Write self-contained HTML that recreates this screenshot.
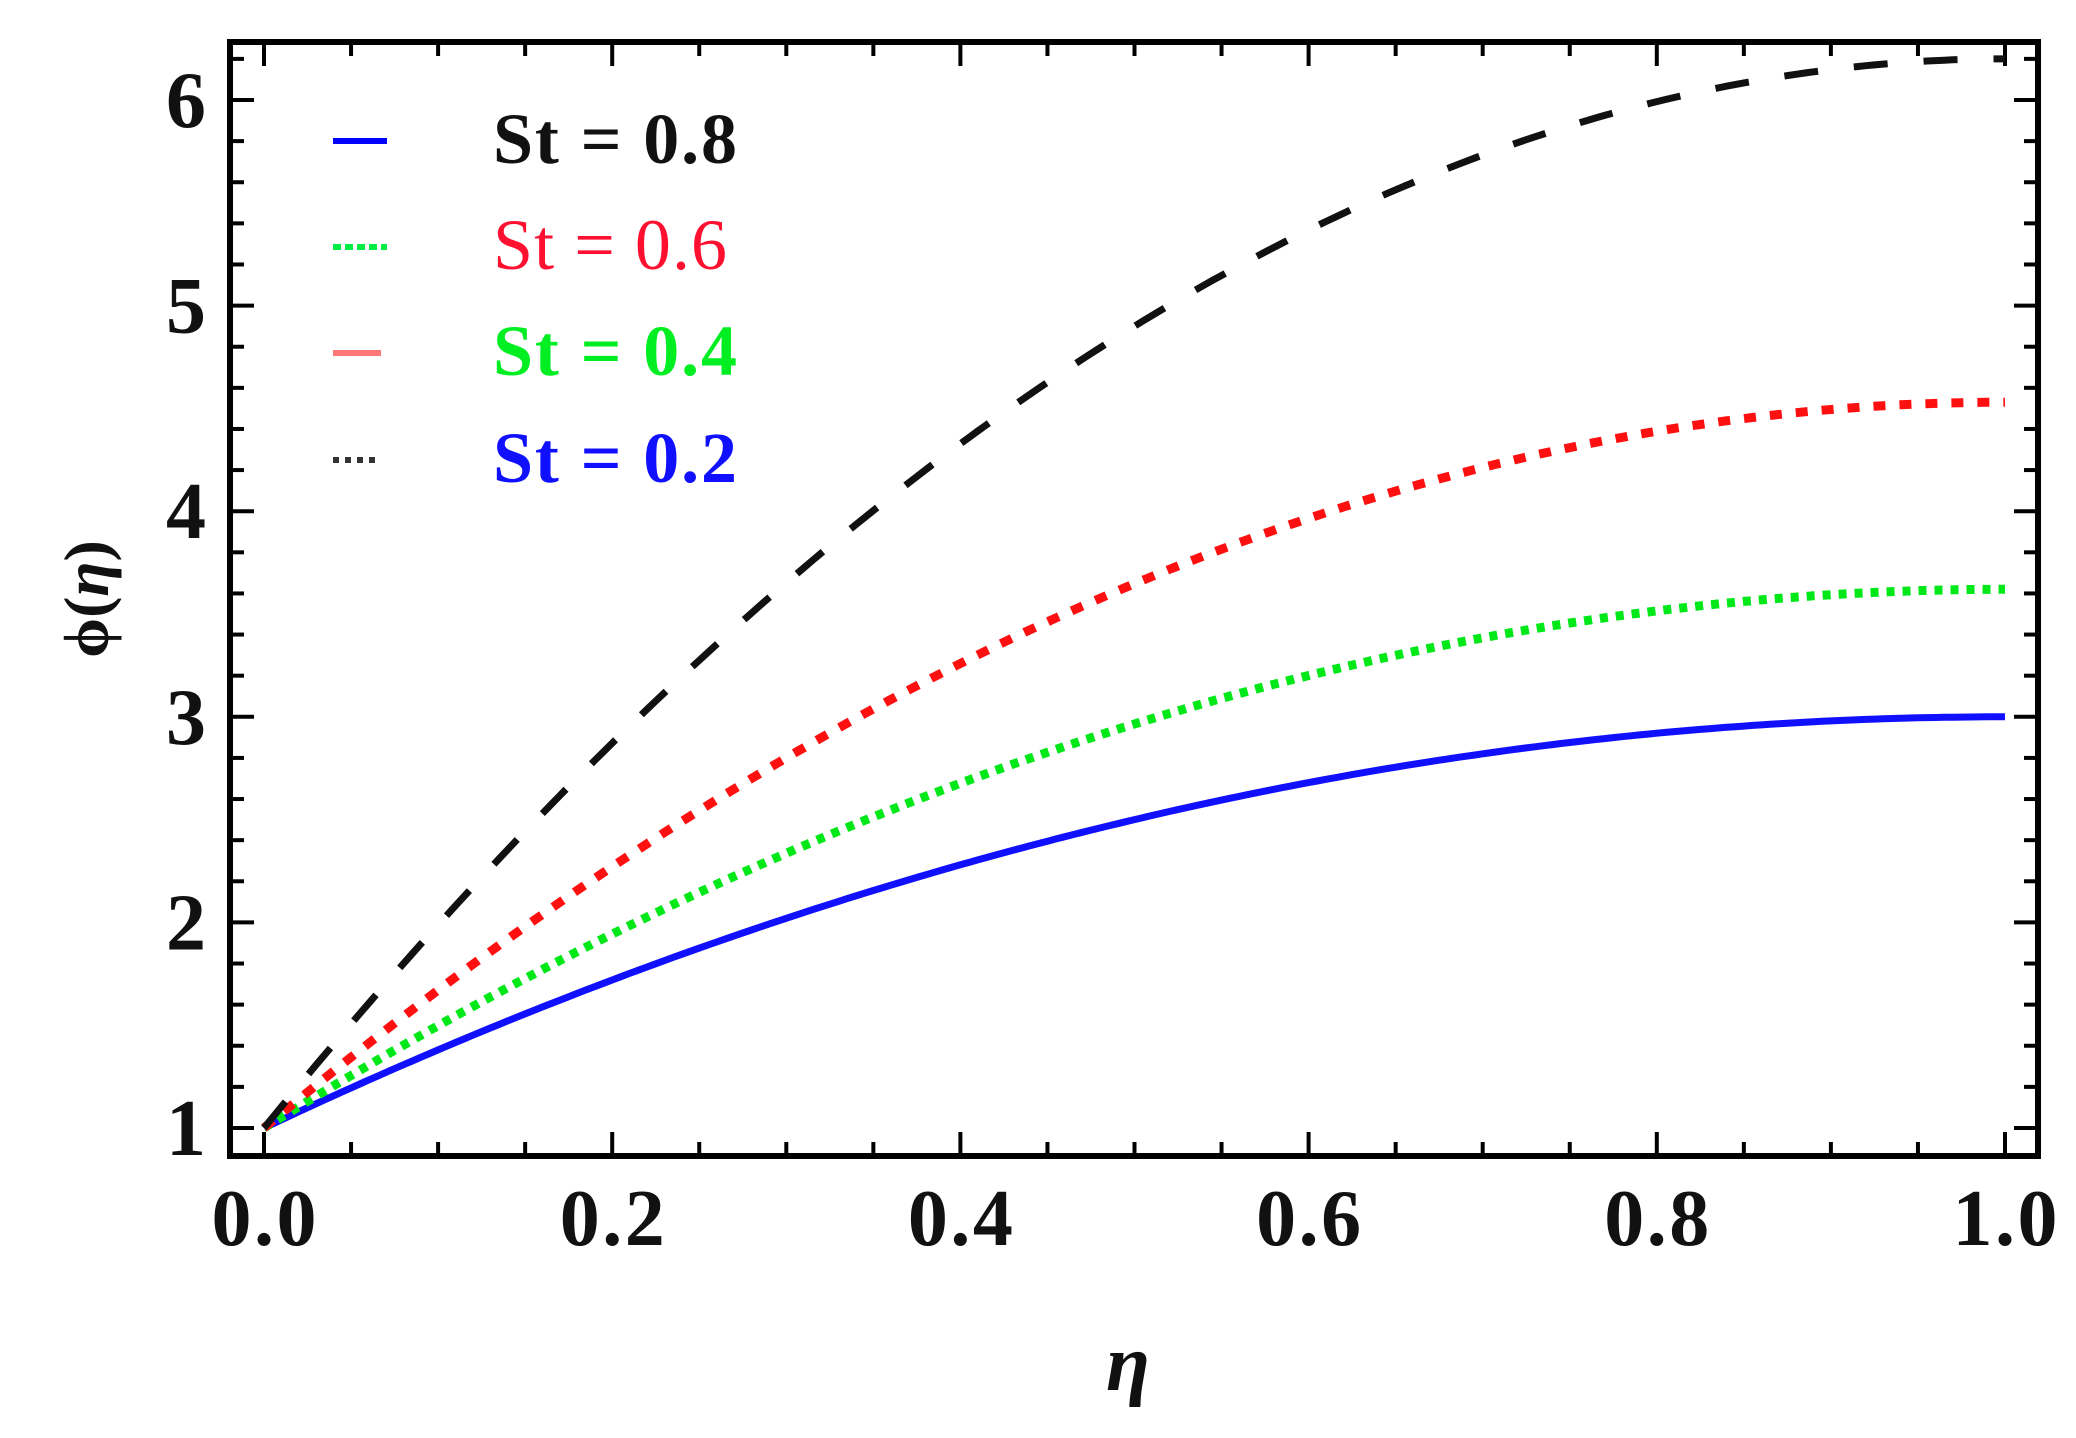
<!DOCTYPE html>
<html><head><style>html,body{margin:0;padding:0;background:#fff}</style></head>
<body>
<svg width="2076" height="1433" viewBox="0 0 2076 1433" xmlns="http://www.w3.org/2000/svg">
<defs><clipPath id="c"><rect x="230" y="42" width="1808" height="1114"/></clipPath></defs>
<rect x="0" y="0" width="2076" height="1433" fill="#fff"/>
<g id="ticks" stroke="#000" stroke-width="4"></g>
<g clip-path="url(#c)" fill="none">
<path id="pb" stroke="#1010ff" stroke-width="7"/>
<path id="pg" stroke="#00e818" stroke-width="9" stroke-dasharray="8 8"/>
<path id="pr" stroke="#ff1010" stroke-width="9" stroke-dasharray="12 14"/>
<path id="pk" stroke="#111" stroke-width="7" stroke-dasharray="34 36"/>
</g>
<rect x="230" y="42" width="1808" height="1114" fill="none" stroke="#000" stroke-width="6"/>
<g font-family="Liberation Serif, serif" font-weight="bold" font-size="80" fill="#111" id="labels"></g>
<line x1="333" y1="141" x2="387" y2="141" stroke="#0000ff" stroke-width="6"/>
<line x1="333" y1="247" x2="387" y2="247" stroke="#00ee44" stroke-width="6" stroke-dasharray="8 4"/>
<line x1="333" y1="353" x2="381" y2="353" stroke="#ff7777" stroke-width="6"/>
<line x1="333" y1="460" x2="381" y2="460" stroke="#333" stroke-width="6" stroke-dasharray="6 6"/>
<g font-family="Liberation Serif, serif" font-weight="bold" font-size="72">
<text x="493" y="163" textLength="244" fill="#111">St = 0.8</text>
<text x="493" y="269" textLength="234" fill="#ff1030" font-weight="normal">St = 0.6</text>
<text x="493" y="375" textLength="244" fill="#00ee22">St = 0.4</text>
<text x="493" y="482" textLength="244" fill="#1010ff">St = 0.2</text>
</g>
<text x="1128" y="1390" font-family="Liberation Serif, serif" font-style="italic" font-weight="bold" font-size="80" text-anchor="middle" fill="#111">η</text>
<text transform="translate(108,599) rotate(-90)" font-family="Liberation Serif, serif" font-weight="bold" font-size="64" text-anchor="middle" fill="#111">ϕ(<tspan font-style="italic">η</tspan>)</text>
</svg>
<script>
var NS="http://www.w3.org/2000/svg";
var X0=264,X1=2005,Y1=1128,Y6=100;
function xs(v){return X0+(X1-X0)*v;}
function ys(v){return Y1+(Y6-Y1)*(v-1)/5;}
function path(a){var d='';for(var i=0;i<=200;i++){var x=i/200;var y=1+a*(1-(1-x)*(1-x));d+=(i?'L':'M')+xs(x).toFixed(1)+','+ys(y).toFixed(1);}return d;}
document.getElementById('pb').setAttribute('d',path(2.0));
document.getElementById('pg').setAttribute('d',path(2.62));
document.getElementById('pr').setAttribute('d',path(3.53));
document.getElementById('pk').setAttribute('d',path(5.2));
var T=document.getElementById('ticks');
function ln(x1,y1,x2,y2){var e=document.createElementNS(NS,'line');e.setAttribute('x1',x1);e.setAttribute('y1',y1);e.setAttribute('x2',x2);e.setAttribute('y2',y2);T.appendChild(e);}
for(var i=0;i<=20;i++){var x=xs(i*0.05),L=i%4==0?24:14;ln(x,1156,x,1156-L);ln(x,42,x,42+L);}
for(var k=0;k<=30;k++){var v=0.8+k*0.2;var y=ys(v);if(y<45||y>1153)continue;var L2=Math.abs(v-Math.round(v))<0.01?24:14;ln(230,y,230+L2,y);ln(2038,y,2038-L2,y);}
var G=document.getElementById('labels');
function tx(x,y,s,anchor,len){var e=document.createElementNS(NS,'text');e.setAttribute('x',x);e.setAttribute('y',y);e.setAttribute('text-anchor',anchor);if(len)e.setAttribute('textLength',len);e.textContent=s;G.appendChild(e);}
for(var i=0;i<=5;i++){tx(xs(i*0.2),1245,(i*0.2).toFixed(1),'middle',105);}
for(var v=1;v<=6;v++){tx(206,ys(v)+27,String(v),'end');}
</script>
</body></html>
